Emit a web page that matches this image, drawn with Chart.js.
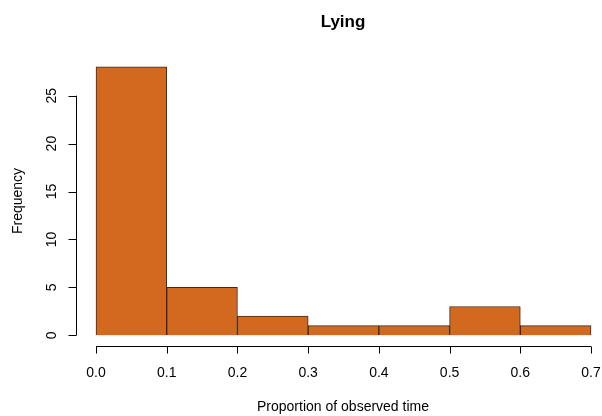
<!DOCTYPE html>
<html lang="en">
<head>
    <meta charset="UTF-8">
    <script src="https://cdn.jsdelivr.net/npm/chart.js@4.4.0/dist/chart.umd.min.js"></script>
    <title>Lying</title>
    <style>
        body { margin: 0; background: #fff; }
    </style>
</head>
<body>
    <canvas id="myChart" width="602" height="416"></canvas>
    <script>
        // histogram bins (lower edge, upper edge) and counts
        var binStarts = [0.0, 0.1, 0.2, 0.3, 0.4, 0.5, 0.6];
        var binEnds = [0.1, 0.2, 0.3, 0.4, 0.5, 0.6, 0.7];
        var counts = [28, 5, 2, 1, 1, 3, 1];
        var xTicks = [0.0, 0.1, 0.2, 0.3, 0.4, 0.5, 0.6, 0.7];
        var yTicks = [0, 5, 10, 15, 20, 25];

        var font = '"Liberation Sans", Arial, sans-serif';

        // R style axes: detached lines, only from first to last tick
        var rAxes = {
            id: 'rAxes',
            afterDraw: function (chart) {
                var c = chart.ctx, xs = chart.scales.x, ys = chart.scales.y;
                var area = chart.chartArea;
                c.save();
                c.strokeStyle = '#000';
                c.lineWidth = 1;
                c.fillStyle = '#000';

                // x axis
                var yLine = Math.round(area.bottom) + 0.5;
                c.beginPath();
                c.moveTo(xs.getPixelForValue(xTicks[0]), yLine);
                c.lineTo(xs.getPixelForValue(xTicks[xTicks.length - 1]), yLine);
                xTicks.forEach(function (t) {
                    var px = Math.round(xs.getPixelForValue(t)) + 0.5;
                    c.moveTo(px, yLine);
                    c.lineTo(px, yLine + 7);
                });
                c.stroke();
                c.font = '14px ' + font;
                c.textAlign = 'center';
                c.textBaseline = 'middle';
                xTicks.forEach(function (t) {
                    c.fillText(t.toFixed(1), xs.getPixelForValue(t), 373);
                });

                // y axis
                var xLine = Math.round(area.left) + 0.5;
                c.beginPath();
                c.moveTo(xLine, ys.getPixelForValue(yTicks[0]));
                c.lineTo(xLine, ys.getPixelForValue(yTicks[yTicks.length - 1]));
                yTicks.forEach(function (t) {
                    var py = Math.round(ys.getPixelForValue(t)) + 0.5;
                    c.moveTo(xLine, py);
                    c.lineTo(xLine - 8, py);
                });
                c.stroke();
                yTicks.forEach(function (t) {
                    c.save();
                    c.translate(52, ys.getPixelForValue(t));
                    c.rotate(-Math.PI / 2);
                    c.fillText(String(t), 0, 0);
                    c.restore();
                });

                // titles
                c.font = '14px ' + font;
                c.fillText('Proportion of observed time', 343, 407);
                c.save();
                c.translate(18, 201);
                c.rotate(-Math.PI / 2);
                c.fillText('Frequency', 0, 0);
                c.restore();
                c.font = 'bold 17px ' + font;
                c.fillText('Lying', 343, 22);
                c.restore();
            }
        };

        var ctx = document.getElementById('myChart').getContext('2d');
        var myChart = new Chart(ctx, {
            type: 'bar',
            data: {
                datasets: [{
                    label: 'Frequency',
                    data: counts.map(function (n, i) {
                        return { x: (binStarts[i] + binEnds[i]) / 2, y: n };
                    }),
                    backgroundColor: '#D2691E',
                    borderColor: 'rgba(40, 20, 10, 0.9)',
                    borderWidth: 1,
                    barPercentage: 1,
                    categoryPercentage: 1
                }]
            },
            options: {
                responsive: false,
                animation: false,
                layout: { padding: { left: 76, top: 56, right: 2, bottom: 70 } },
                plugins: {
                    legend: { display: false },
                    tooltip: { enabled: false }
                },
                scales: {
                    x: { type: 'linear', offset: false, display: false, min: -0.0283, max: 0.7127 },
                    y: { type: 'linear', display: false, min: -1.12, max: 29.14 }
                }
            },
            plugins: [rAxes]
        });
    </script>
</body>
</html>
